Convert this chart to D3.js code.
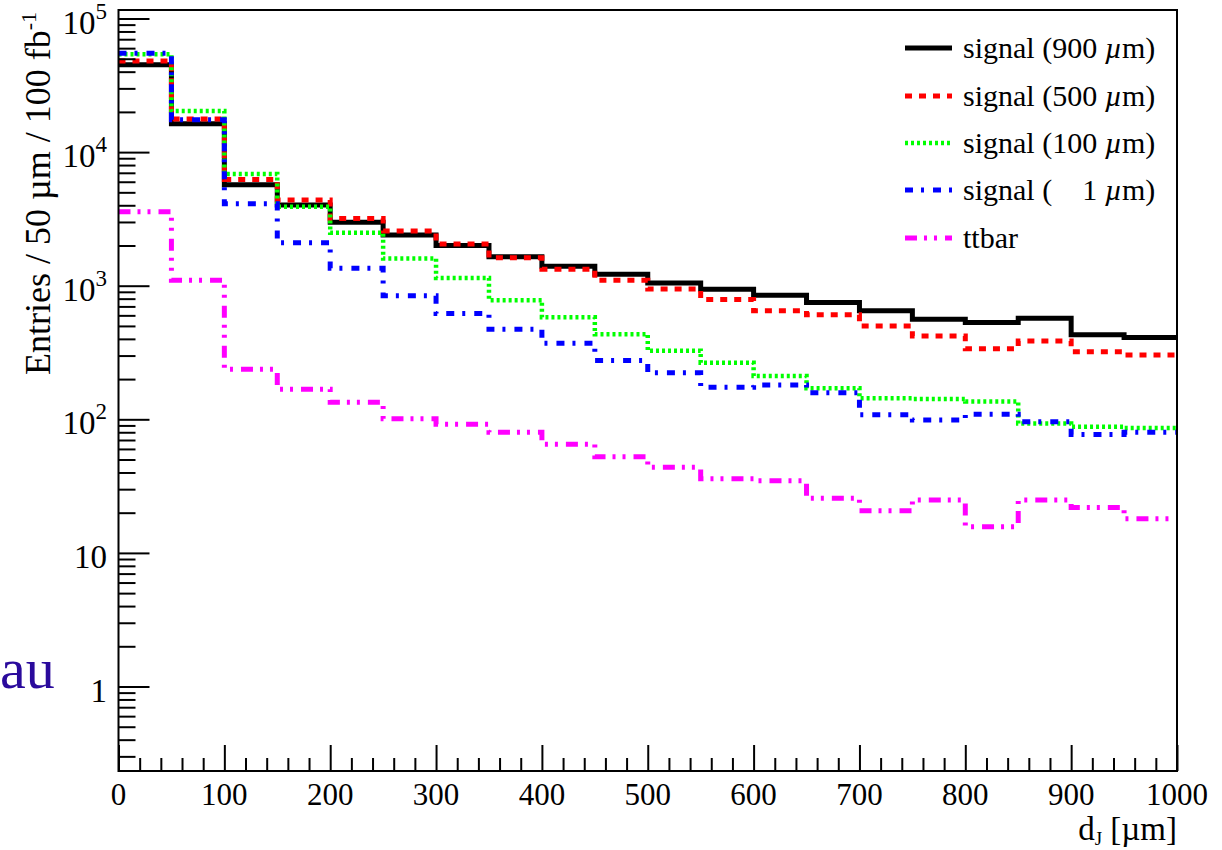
<!DOCTYPE html>
<html>
<head>
<meta charset="utf-8">
<script src="https://cdn.jsdelivr.net/npm/d3@7"></script>
<style>
  body { margin: 0; background: #fff; }
  svg text { font-family: "Liberation Serif", "DejaVu Serif", serif; fill: #000; }
</style>
</head>
<body>
<div id="chart"></div>
<script>
// bin lower edges (um), 50 um wide
const binEdges = [0, 50, 100, 150, 200, 250, 300, 350, 400, 450, 500, 550, 600, 650, 700, 750, 800, 850, 900, 950];
const binEnd = 1000;

// entries per bin
const sig900 = [45000, 16300, 5700, 4020, 2980, 2400, 2000, 1650, 1400, 1220, 1050, 940, 850, 750, 650, 560, 530, 570, 430, 410];
const sig500 = [48000, 17700, 6250, 4380, 3190, 2570, 2050, 1620, 1330, 1100, 945, 790, 650, 605, 500, 420, 338, 385, 321, 303];
const sig100 = [54000, 20300, 6860, 3900, 2490, 1600, 1140, 780, 580, 433, 326, 265, 211, 171, 144, 142, 136, 93, 88, 86];
const sig1 = [55000, 17500, 4100, 2100, 1350, 840, 620, 472, 371, 275, 223, 174, 181, 158, 108, 99, 109, 96, 77, 80];
const ttbar = [3580, 1100, 237, 168, 134, 101, 92, 80, 65, 52.5, 43.7, 35.9, 34.7, 25.6, 20.7, 24.9, 15.7, 24.9, 21.9, 18.0];

const seriesNames = ["signal (900 ", "signal (500 ", "signal (100 ", "signal (    1 ", "ttbar"];

// axis ticks
const xMajor = [0, 100, 200, 300, 400, 500, 600, 700, 800, 900, 1000];
const xMinor = [20, 40, 60, 80, 120, 140, 160, 180, 220, 240, 260, 280, 320, 340, 360, 380, 420, 440, 460, 480,
  520, 540, 560, 580, 620, 640, 660, 680, 720, 740, 760, 780, 820, 840, 860, 880, 920, 940, 960, 980];
const yMajor = [1, 10, 100, 1000, 10000, 100000];
const yMinor = [0.3, 0.4, 0.5, 0.6, 0.7, 0.8, 0.9,
  2, 3, 4, 5, 6, 7, 8, 9, 20, 30, 40, 50, 60, 70, 80, 90,
  200, 300, 400, 500, 600, 700, 800, 900, 2000, 3000, 4000, 5000, 6000, 7000, 8000, 9000,
  20000, 30000, 40000, 50000, 60000, 70000, 80000, 90000];

const width = 1222;
const height = 850;
const frame = { left: 118.5, right: 1177, top: 10, bottom: 771 };
const serif = "Liberation Serif, DejaVu Serif, serif";

const svg = d3.select("#chart")
  .append("svg")
  .attr("width", width)
  .attr("height", height)
  .attr("font-family", serif);

svg.append("rect").attr("width", width).attr("height", height).attr("fill", "#fff");

const x = d3.scaleLinear()
  .domain([0, 1000])
  .range([frame.left, frame.right]);

const y = d3.scaleLog()
  .domain([0.2331, 115800])
  .range([frame.bottom, frame.top]);

svg.append("defs").append("clipPath").attr("id", "plotclip")
  .append("rect")
  .attr("x", frame.left).attr("y", frame.top)
  .attr("width", frame.right - frame.left).attr("height", frame.bottom - frame.top);

// histograms
const series = [
  { values: sig900, color: "#000000", dash: null, w: 5 },
  { values: sig500, color: "#ff0000", dash: "7,7", w: 5 },
  { values: sig100, color: "#00ff00", dash: "3,3", w: 4.5 },
  { values: sig1, color: "#0000ff", dash: "8,8,3,9", w: 5 },
  { values: ttbar, color: "#ff00ff", dash: "12,7,3,7,3,8", w: 5 }
];

const line = d3.line()
  .x(d => x(d[0]))
  .y(d => y(d[1]))
  .curve(d3.curveStepAfter);

const plot = svg.append("g").attr("clip-path", "url(#plotclip)");

series.forEach(s => {
  const pts = binEdges.map((e, i) => [e, s.values[i]]);
  pts.push([binEnd, s.values[s.values.length - 1]]);
  plot.append("path")
    .attr("d", line(pts))
    .attr("fill", "none")
    .attr("stroke", s.color)
    .attr("stroke-width", s.w)
    .attr("stroke-dasharray", s.dash);
});

// axes
const axisG = svg.append("g");

axisG.append("g")
  .attr("transform", `translate(0, ${frame.bottom})`)
  .call(d3.axisBottom(x).tickValues(xMajor).tickSize(-26).tickFormat(""))
  .call(g => g.select(".domain").remove());
axisG.append("g")
  .attr("transform", `translate(0, ${frame.bottom})`)
  .call(d3.axisBottom(x).tickValues(xMinor).tickSize(-13).tickFormat(""))
  .call(g => g.select(".domain").remove());

axisG.append("g")
  .attr("transform", `translate(${frame.left}, 0)`)
  .call(d3.axisLeft(y).tickValues(yMajor).tickSize(-31).tickFormat(""))
  .call(g => g.select(".domain").remove());
axisG.append("g")
  .attr("transform", `translate(${frame.left}, 0)`)
  .call(d3.axisLeft(y).tickValues(yMinor).tickSize(-17).tickFormat(""))
  .call(g => g.select(".domain").remove());

axisG.selectAll(".tick line").attr("stroke", "#000").attr("stroke-width", 2);

svg.append("rect")
  .attr("x", frame.left).attr("y", frame.top)
  .attr("width", frame.right - frame.left).attr("height", frame.bottom - frame.top)
  .attr("fill", "none").attr("stroke", "#000").attr("stroke-width", 2);

// x tick labels
svg.selectAll(".xlab")
  .data(xMajor)
  .join("text")
  .attr("class", "xlab")
  .attr("x", d => x(d))
  .attr("y", 805)
  .attr("text-anchor", "middle")
  .attr("font-size", 31)
  .text(d => d);

// y tick labels
const ylab = svg.selectAll(".ylab")
  .data(yMajor)
  .join("text")
  .attr("class", "ylab")
  .attr("x", 107)
  .attr("y", d => y(d) + 15)
  .attr("text-anchor", "end")
  .attr("font-size", 33);
ylab.each(function (d) {
  const t = d3.select(this);
  const e = Math.round(Math.log10(d));
  if (e < 2) {
    t.text(d);
  } else {
    t.append("tspan").text("10");
    t.append("tspan").attr("dy", -15).attr("font-size", 23).text(e);
  }
});

// axis titles
const ytitle = svg.append("text")
  .attr("transform", "translate(50, 12) rotate(-90)")
  .attr("text-anchor", "end")
  .attr("font-size", 36);
ytitle.append("tspan").text("Entries / 50 \u00b5m / 100 fb");
ytitle.append("tspan").attr("dy", -14).attr("font-size", 22).text("-1");

const xtitle = svg.append("text")
  .attr("x", frame.right)
  .attr("y", 840)
  .attr("text-anchor", "end")
  .attr("font-size", 33);
xtitle.append("tspan").text("d");
xtitle.append("tspan").attr("dy", 5).attr("font-size", 19).text("J");
xtitle.append("tspan").attr("dy", -5).text(" [\u00b5m]");

// legend
const legendY = [48, 96, 143, 190, 238];
const leg = svg.append("g");
series.forEach((s, i) => {
  leg.append("line")
    .attr("x1", 905).attr("x2", 952)
    .attr("y1", legendY[i]).attr("y2", legendY[i])
    .attr("stroke", s.color)
    .attr("stroke-width", s.w)
    .attr("stroke-dasharray", s.dash);
  const t = leg.append("text")
    .attr("x", 963)
    .attr("y", legendY[i] + 10)
    .attr("font-size", 30)
    .style("white-space", "pre");
  t.append("tspan").text(seriesNames[i]);
  if (i < 4) {
    t.append("tspan").attr("font-style", "italic").text("\u00b5");
    t.append("tspan").text("m)");
  }
});

// stray label at the left edge
svg.append("text")
  .attr("x", 0)
  .attr("y", 688)
  .attr("font-size", 58)
  .style("fill", "#2a0a9c")
  .text("au");
</script>
</body>
</html>
